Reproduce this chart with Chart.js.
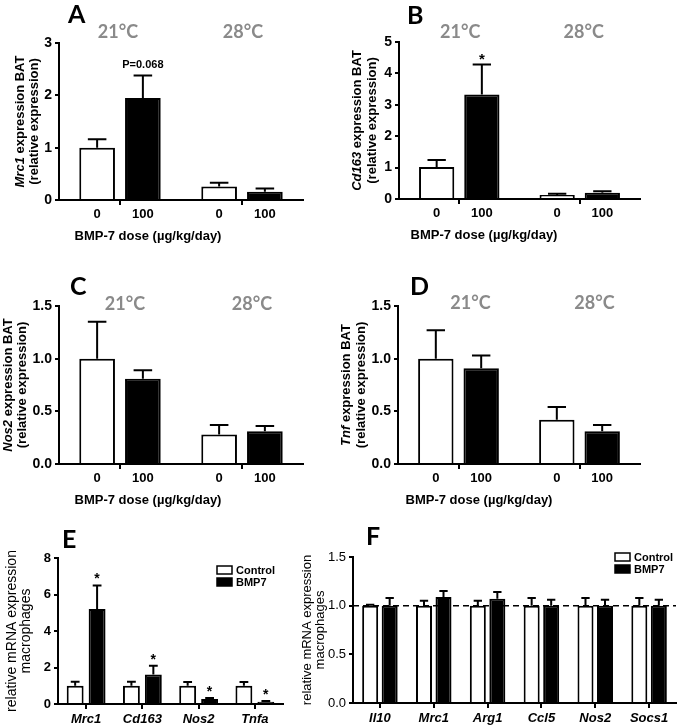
<!DOCTYPE html>
<html>
<head>
<meta charset="utf-8">
<script src="https://cdn.jsdelivr.net/npm/chart.js@4.4.1/dist/chart.umd.min.js"></script>
<style>
html, body { margin: 0; padding: 0; background: #fff; }
#wrap { position: relative; width: 678px; height: 727px; overflow: hidden; }
#wrap canvas { position: absolute; left: 0; top: 0; }
</style>
</head>
<body>
<div id="wrap">
  <canvas id="chartA" width="678" height="727"></canvas>
  <canvas id="chartB" width="678" height="727"></canvas>
  <canvas id="chartC" width="678" height="727"></canvas>
  <canvas id="chartD" width="678" height="727"></canvas>
  <canvas id="chartE" width="678" height="727"></canvas>
  <canvas id="chartF" width="678" height="727"></canvas>
</div>
<script>
// ---- data ----
const temps = ['21°C', '28°C'];
const doseTicks = ['0', '100'];

const mrc1Vehicle = [1.0, 0.26];
const mrc1VehicleSem = [0.16, 0.07];
const mrc1Bmp7 = [1.95, 0.16];
const mrc1Bmp7Sem = [0.43, 0.06];
const mrc1Notes = ['P=0.068', ''];

const cd163Vehicle = [1.02, 0.13];
const cd163VehicleSem = [0.22, 0.04];
const cd163Bmp7 = [3.33, 0.2];
const cd163Bmp7Sem = [0.95, 0.05];
const cd163Notes = ['*', ''];

const nos2Vehicle = [1.0, 0.28];
const nos2VehicleSem = [0.35, 0.09];
const nos2Bmp7 = [0.81, 0.31];
const nos2Bmp7Sem = [0.08, 0.05];

const tnfVehicle = [1.0, 0.42];
const tnfVehicleSem = [0.27, 0.12];
const tnfBmp7 = [0.91, 0.31];
const tnfBmp7Sem = [0.12, 0.06];

const genesE = ['Mrc1', 'Cd163', 'Nos2', 'Tnfa'];
const controlE = [1.0, 1.0, 1.0, 1.0];
const controlSemE = [0.22, 0.22, 0.2, 0.2];
const bmp7E = [5.2, 1.62, 0.28, 0.12];
const bmp7SemE = [1.3, 0.48, 0.05, 0.04];
const notesE = ['*', '*', '*', '*'];

const genesF = ['Il10', 'Mrc1', 'Arg1', 'Ccl5', 'Nos2', 'Socs1'];
const controlF = [1.0, 1.0, 1.0, 1.0, 1.0, 1.0];
const controlSemF = [0.01, 0.05, 0.05, 0.08, 0.08, 0.08];
const bmp7F = [1.0, 1.09, 1.07, 1.0, 1.0, 1.0];
const bmp7SemF = [0.08, 0.06, 0.07, 0.06, 0.06, 0.06];
const baselineF = 1.0;

// ---- styling ----
const ARIAL = '"Liberation Sans", Arial, sans-serif';
const CALIBRI = 'Lato, "Open Sans", sans-serif';
Chart.defaults.font.family = ARIAL;
Chart.defaults.color = '#000';

// one-sided SEM bars + text above them
const errorBars = {
  id: 'errorBars',
  afterDatasetsDraw(chart) {
    const ctx = chart.ctx;
    const ys = chart.scales.y;
    chart.data.datasets.forEach((ds, di) => {
      if (!ds.sem) return;
      chart.getDatasetMeta(di).data.forEach((bar, i) => {
        const top = ys.getPixelForValue(ds.data[i] + ds.sem[i]);
        const half = bar.width * 0.26;
        ctx.save();
        ctx.strokeStyle = '#000';
        ctx.lineWidth = 2;
        ctx.beginPath();
        ctx.moveTo(bar.x, bar.y);
        ctx.lineTo(bar.x, top);
        ctx.moveTo(bar.x - half, top);
        ctx.lineTo(bar.x + half, top);
        ctx.stroke();
        if (ds.notes && ds.notes[i]) {
          const t = ds.notes[i];
          ctx.fillStyle = '#000';
          ctx.textAlign = 'center';
          ctx.textBaseline = 'alphabetic';
          ctx.font = t === '*' ? `bold ${ds.starSize}px ${ARIAL}` : `bold 11px ${ARIAL}`;
          ctx.fillText(t, bar.x, top - (t === '*' ? ds.starGap : 7));
        }
        ctx.restore();
      });
    });
  }
};

// panel letters, titles, dose labels, legend, reference line
const decor = {
  id: 'decor',
  beforeDatasetsDraw(chart, args, o) {
    if (o.refLine == null) return;
    const ctx = chart.ctx, a = chart.chartArea;
    const y = chart.scales.y.getPixelForValue(o.refLine);
    ctx.save();
    ctx.strokeStyle = '#000';
    ctx.lineWidth = 1.5;
    ctx.setLineDash([6, 4]);
    ctx.beginPath();
    ctx.moveTo(a.left, y);
    ctx.lineTo(a.right, y);
    ctx.stroke();
    ctx.restore();
  },
  afterDraw(chart, args, o) {
    const ctx = chart.ctx, a = chart.chartArea;
    ctx.save();
    ctx.fillStyle = '#000';
    ctx.textBaseline = 'alphabetic';
    ctx.textAlign = 'left';
    ctx.font = `bold 25px ${CALIBRI}`;
    ctx.fillText(o.letter.text, o.letter.x, o.letter.y);

    if (o.temps) {
      const xs = chart.scales.x;
      ctx.fillStyle = '#8a8a8a';
      ctx.font = `bold 18px ${CALIBRI}`;
      ctx.textAlign = 'center';
      chart.data.labels.forEach((t, i) => {
        ctx.fillText(t, xs.getPixelForValue(i) + o.temps.dx[i], o.temps.y);
      });
    }

    if (o.doseTicks) {
      ctx.fillStyle = '#000';
      ctx.font = `bold 13px ${ARIAL}`;
      ctx.textAlign = 'center';
      ctx.textBaseline = 'top';
      chart.data.datasets.forEach((ds, di) => {
        chart.getDatasetMeta(di).data.forEach(bar => {
          ctx.fillText(o.doseTicks[di], bar.x, a.bottom + 8);
        });
      });
      ctx.textBaseline = 'alphabetic';
      ctx.fillText(o.xTitle.text, a.left + o.xTitle.dx, a.bottom + 40);
    }

    if (o.yTitle) {
      const t = o.yTitle;
      const cy = (a.top + a.bottom) / 2;
      t.lines.forEach((segs, li) => {
        ctx.save();
        ctx.translate(a.left + t.dx[li], cy);
        ctx.rotate(-Math.PI / 2);
        ctx.fillStyle = '#000';
        ctx.textAlign = 'left';
        ctx.textBaseline = 'middle';
        const fonts = segs.map(s => `${s[1]}${t.weight} ${t.size}px ${ARIAL}`);
        let total = 0;
        segs.forEach((s, k) => { ctx.font = fonts[k]; total += ctx.measureText(s[0]).width; });
        let x = -total / 2;
        segs.forEach((s, k) => {
          ctx.font = fonts[k];
          ctx.fillText(s[0], x, 0);
          x += ctx.measureText(s[0]).width;
        });
        ctx.restore();
      });
    }

    if (o.legend) {
      ctx.font = `bold 11px ${ARIAL}`;
      ctx.textAlign = 'left';
      ctx.textBaseline = 'middle';
      chart.data.datasets.forEach((ds, di) => {
        const y = o.legend.y + di * o.legend.row;
        ctx.fillStyle = ds.backgroundColor;
        ctx.fillRect(o.legend.x, y - 4, 15, 8);
        ctx.strokeStyle = '#000';
        ctx.lineWidth = 1.5;
        ctx.strokeRect(o.legend.x, y - 4, 15, 8);
        ctx.fillStyle = '#000';
        ctx.fillText(ds.label, o.legend.x + 19, y + 1);
      });
    }
    ctx.restore();
  }
};

const YW = 34;   // fixed y-axis band width
const XH = 24;   // fixed x-axis band height

function panel(id, p) {
  const area = p.area;
  return new Chart(document.getElementById(id), {
    type: 'bar',
    data: {
      labels: p.labels,
      datasets: [
        { label: 'Control', data: p.control, sem: p.controlSem,
          backgroundColor: '#fff', borderColor: '#000', borderWidth: 2,
          categoryPercentage: p.cp, barPercentage: p.bp },
        { label: 'BMP7', data: p.bmp, sem: p.bmpSem, notes: p.notes,
          starSize: p.starSize || 15, starGap: p.starGap || 1,
          backgroundColor: '#000', borderColor: '#000', borderWidth: 2,
          categoryPercentage: p.cp, barPercentage: p.bp }
      ]
    },
    options: {
      responsive: false,
      animation: false,
      devicePixelRatio: 1,
      events: [],
      layout: {
        padding: { left: area.l - YW, top: area.t, right: 678 - area.r, bottom: 727 - area.b - XH }
      },
      plugins: {
        legend: { display: false },
        tooltip: { enabled: false },
        decor: p.decor
      },
      scales: {
        x: {
          grid: { display: true, offset: false, drawOnChartArea: false, drawTicks: true,
                  tickLength: 5, color: '#000', lineWidth: 2 },
          border: { color: '#000', width: 2 },
          ticks: p.xTicks || { display: false },
          afterFit: s => { s.height = XH; }
        },
        y: {
          min: 0, max: p.max,
          grid: { display: true, drawOnChartArea: false, drawTicks: true,
                  tickLength: 4, color: '#000', lineWidth: 2 },
          border: { color: '#000', width: 2 },
          ticks: {
            stepSize: p.step, padding: 3,
            font: { size: p.tickSize || 14, weight: p.tickWeight || 'bold' },
            callback: v => p.decimals ? v.toFixed(1) : String(v)
          },
          afterFit: s => { s.width = YW; }
        }
      }
    },
    plugins: [decor, errorBars]
  });
}

const bmpTitle = 'BMP-7 dose (µg/kg/day)';

panel('chartA', {
  area: { l: 59, t: 43, r: 303, b: 200 },
  labels: temps, control: mrc1Vehicle, controlSem: mrc1VehicleSem,
  bmp: mrc1Bmp7, bmpSem: mrc1Bmp7Sem, notes: mrc1Notes,
  cp: 0.75, bp: 0.78, max: 3, step: 1,
  decor: {
    letter: { text: 'A', x: 68, y: 23 },
    temps: { y: 38, dx: [-2, 1] },
    doseTicks: doseTicks,
    xTitle: { text: bmpTitle, dx: 89 },
    yTitle: { weight: 'bold', size: 13, dx: [-39, -25],
      lines: [[['Mrc1', 'italic '], [' expression BAT', '']], [['(relative expression)', '']]] }
  }
});

panel('chartB', {
  area: { l: 399, t: 42, r: 640, b: 199 },
  labels: temps, control: cd163Vehicle, controlSem: cd163VehicleSem,
  bmp: cd163Bmp7, bmpSem: cd163Bmp7Sem, notes: cd163Notes, starGap: 1,
  cp: 0.75, bp: 0.78, max: 5, step: 1,
  decor: {
    letter: { text: 'B', x: 407, y: 24 },
    temps: { y: 38, dx: [1, 4] },
    doseTicks: doseTicks,
    xTitle: { text: bmpTitle, dx: 85 },
    yTitle: { weight: 'bold', size: 13, dx: [-42, -27],
      lines: [[['Cd163', 'italic '], [' expression BAT', '']], [['(relative expression)', '']]] }
  }
});

panel('chartC', {
  area: { l: 59, t: 306, r: 303, b: 464 },
  labels: temps, control: nos2Vehicle, controlSem: nos2VehicleSem,
  bmp: nos2Bmp7, bmpSem: nos2Bmp7Sem,
  cp: 0.75, bp: 0.78, max: 1.5, step: 0.5, decimals: true,
  decor: {
    letter: { text: 'C', x: 70, y: 295 },
    temps: { y: 310, dx: [5, 10] },
    doseTicks: doseTicks,
    xTitle: { text: bmpTitle, dx: 89 },
    yTitle: { weight: 'bold', size: 13, dx: [-51, -37],
      lines: [[['Nos2', 'italic '], [' expression BAT', '']], [['(relative expression)', '']]] }
  }
});

panel('chartD', {
  area: { l: 398, t: 306, r: 640, b: 464 },
  labels: temps, control: tnfVehicle, controlSem: tnfVehicleSem,
  bmp: tnfBmp7, bmpSem: tnfBmp7Sem,
  cp: 0.75, bp: 0.78, max: 1.5, step: 0.5, decimals: true,
  decor: {
    letter: { text: 'D', x: 410, y: 295 },
    temps: { y: 309, dx: [12, 15] },
    doseTicks: doseTicks,
    xTitle: { text: bmpTitle, dx: 81 },
    yTitle: { weight: 'bold', size: 13, dx: [-52, -37],
      lines: [[['Tnf', 'italic '], [' expression BAT', '']], [['(relative expression)', '']]] }
  }
});

panel('chartE', {
  area: { l: 58, t: 558, r: 283, b: 704 },
  labels: genesE, control: controlE, controlSem: controlSemE,
  bmp: bmp7E, bmpSem: bmp7SemE, notes: notesE, starSize: 14, starGap: 2,
  cp: 0.78, bp: 0.77, max: 8, step: 2, tickSize: 13,
  xTicks: { font: { size: 13, style: 'italic', weight: 'bold' }, padding: 3 },
  decor: {
    letter: { text: 'E', x: 62, y: 548 },
    legend: { x: 217, y: 570, row: 12 },
    yTitle: { weight: 'normal', size: 14, dx: [-46, -32],
      lines: [[['relative mRNA expression', '']], [['macrophages', '']]] }
  }
});

panel('chartF', {
  area: { l: 353, t: 557, r: 676, b: 703 },
  labels: genesF, control: controlF, controlSem: controlSemF,
  bmp: bmp7F, bmpSem: bmp7SemF,
  cp: 0.725, bp: 0.82, max: 1.5, step: 0.5, decimals: true,
  tickSize: 13, tickWeight: 'normal',
  xTicks: { font: { size: 13, style: 'italic', weight: 'bold' }, padding: 3 },
  decor: {
    letter: { text: 'F', x: 366, y: 545 },
    legend: { x: 615, y: 557, row: 12 },
    refLine: baselineF,
    yTitle: { weight: 'normal', size: 13, dx: [-46, -33],
      lines: [[['relative mRNA expression', '']], [['macrophages', '']]] }
  }
});
</script>
</body>
</html>
